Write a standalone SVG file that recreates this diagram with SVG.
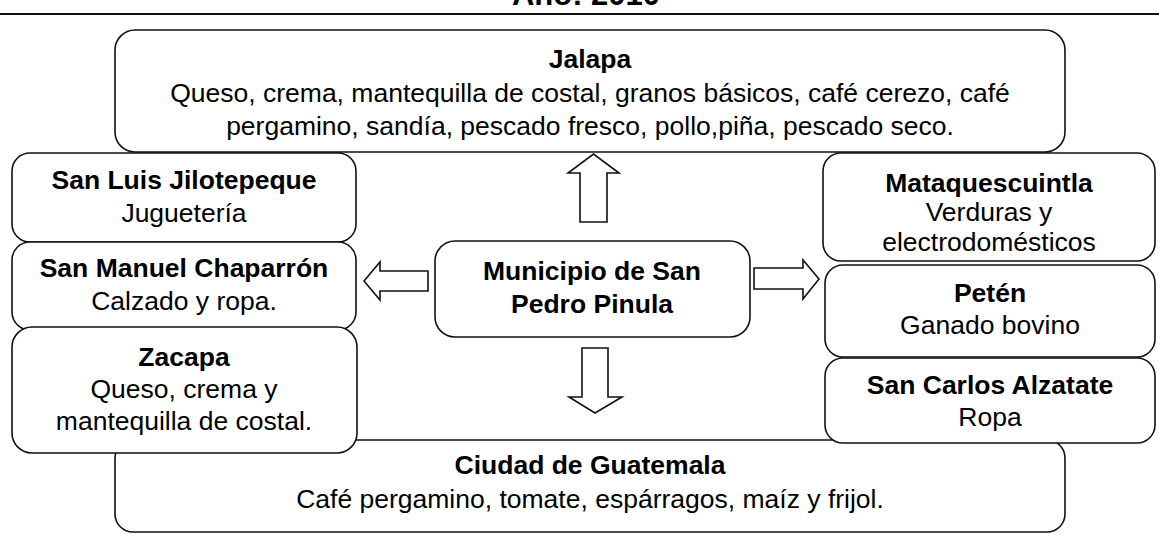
<svg xmlns="http://www.w3.org/2000/svg" width="1159" height="535" viewBox="0 0 1159 535">
<style>
.box{fill:#fff;stroke:#111;stroke-width:1.6}
.arr{fill:#fff;stroke:#111;stroke-width:1.6;stroke-linejoin:miter}
text{font-family:"Liberation Sans",Arial,sans-serif;fill:#000;text-anchor:middle}
.b{font-weight:bold;font-size:26.5px}
.r{font-size:26.5px}
</style>
<rect width="1159" height="535" fill="#fff"/>
<text x="586" y="5" style="font-weight:bold;font-size:31px">Año: 2010</text>
<line x1="0" y1="14" x2="1159" y2="14" stroke="#111" stroke-width="2"/>
<g id="ciudad"><rect class="box" x="115" y="440" width="950" height="92" rx="18"/>
<text class="b" x="590" y="474">Ciudad de Guatemala</text>
<text class="r" x="590" y="508">Café pergamino, tomate, espárragos, maíz y frijol.</text></g>
<g id="jalapa"><rect class="box" x="115" y="30" width="950" height="122" rx="20"/>
<text class="b" x="590" y="68">Jalapa</text>
<text class="r" x="590" y="102">Queso, crema, mantequilla de costal, granos básicos, café cerezo, café</text>
<text class="r" x="590" y="135">pergamino, sandía, pescado fresco, pollo,piña, pescado seco.</text></g>
<g id="sanluis"><rect class="box" x="12" y="153" width="344" height="89" rx="18"/>
<text class="b" x="184" y="189">San Luis Jilotepeque</text>
<text class="r" x="184" y="222">Juguetería</text></g>
<g id="sanmanuel"><rect class="box" x="12" y="242" width="344" height="88" rx="18"/>
<text class="b" x="184" y="277">San Manuel Chaparrón</text>
<text class="r" x="184" y="310">Calzado y ropa.</text></g>
<g id="zacapa"><rect class="box" x="12" y="327" width="345" height="126" rx="20"/>
<text class="b" x="184" y="366">Zacapa</text>
<text class="r" x="184" y="398">Queso, crema y</text>
<text class="r" x="184" y="430">mantequilla de costal.</text></g>
<g id="mataquescuintla"><rect class="box" x="823" y="153" width="332" height="108" rx="18"/>
<text class="b" x="989" y="192">Mataquescuintla</text>
<text class="r" x="989" y="221">Verduras y</text>
<text class="r" x="989" y="251">electrodomésticos</text></g>
<g id="peten"><rect class="box" x="825" y="265" width="330" height="92" rx="18"/>
<text class="b" x="990" y="302">Petén</text>
<text class="r" x="990" y="334">Ganado bovino</text></g>
<g id="sancarlos"><rect class="box" x="825" y="358" width="330" height="85" rx="18"/>
<text class="b" x="990" y="394">San Carlos Alzatate</text>
<text class="r" x="990" y="426">Ropa</text></g>
<g id="municipio"><rect class="box" x="435" y="241" width="315" height="96" rx="20"/>
<text class="b" x="592" y="280">Municipio de San</text>
<text class="b" x="592" y="313">Pedro Pinula</text></g>
<g id="connectors">
<polygon class="arr" points="580,222 607,222 607,173 619,173 593.5,154 568,173 580,173"/>
<polygon class="arr" points="582,348 608,348 608,397 622,397 595,413 569,397 582,397"/>
<polygon class="arr" points="428,271 428,291 380,291 380,300 364,281 380,262 380,271"/>
<polygon class="arr" points="754,268 754,289 803,289 803,299 819,279 803,260 803,268"/>
</g>
</svg>
